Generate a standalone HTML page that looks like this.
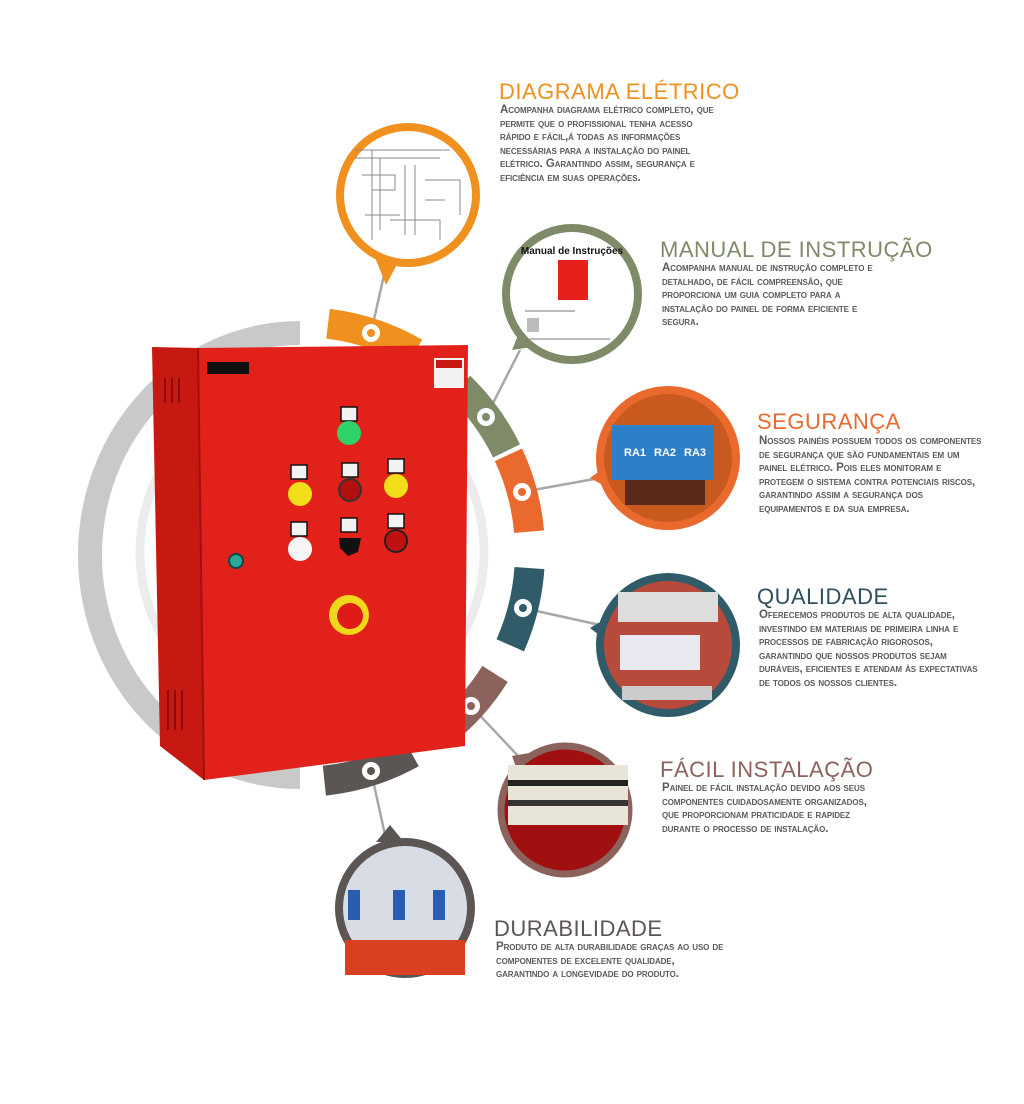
<!DOCTYPE html>
<html><head><meta charset="utf-8"><style>
body{margin:0;background:#fff;width:1024px;height:1104px;overflow:hidden;font-family:"Liberation Sans",sans-serif}
.t{position:absolute;font-size:22px;letter-spacing:0.5px;white-space:nowrap;font-weight:500}
.b{position:absolute;font-size:11.5px;font-weight:bold;font-variant:small-caps;color:#5a5a5a;line-height:13.5px;white-space:nowrap;letter-spacing:-0.1px}
</style></head><body>
<svg width="1024" height="1104" style="position:absolute;left:0;top:0">
<path d="M300 333 A210 222 0 0 0 300 777" fill="none" stroke="#c9c9c9" stroke-width="24"/>
<circle cx="312" cy="552" r="172" fill="none" stroke="#ececec" stroke-width="9"/>
<g stroke="#a8a8a8" stroke-width="2.5" fill="none">
<line x1="371" y1="333" x2="384" y2="275"/>
<line x1="486" y1="417" x2="520" y2="350"/>
<line x1="522" y1="492" x2="600" y2="478"/>
<line x1="523" y1="608" x2="600" y2="625"/>
<line x1="471" y1="706" x2="520" y2="758"/>
<line x1="371" y1="771" x2="385" y2="835"/>
</g>
<g fill="none" stroke-width="30">
<circle cx="300" cy="552" r="230" stroke="#f0901e" stroke-dasharray="92 2000" transform="rotate(-83 300 552)"/>
<circle cx="300" cy="552" r="230" stroke="#7e8a68" stroke-dasharray="80 2000" transform="rotate(-46 300 552)"/>
<circle cx="300" cy="552" r="230" stroke="#ea6a2e" stroke-dasharray="80 2000" transform="rotate(-25 300 552)"/>
<circle cx="300" cy="552" r="230" stroke="#2f5c68" stroke-dasharray="80 2000" transform="rotate(4 300 552)"/>
<circle cx="300" cy="552" r="230" stroke="#8c625c" stroke-dasharray="80 2000" transform="rotate(32 300 552)"/>
<circle cx="300" cy="552" r="230" stroke="#5b5654" stroke-dasharray="92 2000" transform="rotate(61 300 552)"/>
</g>
<g fill="#fff"><circle cx="371" cy="333" r="9"/><circle cx="486" cy="417" r="9"/><circle cx="522" cy="492" r="9"/><circle cx="523" cy="608" r="9"/><circle cx="471" cy="706" r="9"/><circle cx="371" cy="771" r="9"/></g>
<circle cx="371" cy="333" r="4" fill="#f0901e"/><circle cx="486" cy="417" r="4" fill="#7e8a68"/><circle cx="522" cy="492" r="4" fill="#ea6a2e"/><circle cx="523" cy="608" r="4" fill="#2f5c68"/><circle cx="471" cy="706" r="4" fill="#8c625c"/><circle cx="371" cy="771" r="4" fill="#5b5654"/>

<path d="M372 250 L386 285 L402 255 Z" fill="#f0901e"/>
<circle cx="408" cy="195" r="68" fill="#fff" stroke="#f0901e" stroke-width="8"/>
<g stroke="#888" stroke-width="1" fill="none"><path d="M355 150 H450 M355 158 H440 M372 150 V240 M380 158 V230 M362 175 H395 V190 H372 M405 165 V235 M415 165 V235 M425 180 H460 V215 M425 200 H445 M390 220 H440 V240 M365 215 H400"/></g>
<path d="M512 350 L525 318 L545 345 Z" fill="#7e8a68"/>
<circle cx="572" cy="294" r="66" fill="#fff" stroke="#7e8a68" stroke-width="8"/>
<text x="572" y="254" font-size="10" font-weight="bold" text-anchor="middle" fill="#111">Manual de Instruções</text>
<rect x="558" y="260" width="30" height="40" fill="#e8201c"/>
<g fill="#bbb"><rect x="525" y="310" width="50" height="2"/><rect x="527" y="318" width="12" height="14"/><rect x="530" y="338" width="80" height="2"/></g>
<path d="M590 478 L612 462 L612 490 Z" fill="#ea6a2e"/>
<circle cx="668" cy="458" r="68" fill="#c85a20" stroke="#ea6a2e" stroke-width="8"/>
<rect x="612" y="425" width="102" height="55" fill="#2d7fc8"/>
<rect x="625" y="480" width="80" height="25" fill="#5a2a1a"/>
<g font-size="11" fill="#fff" font-weight="bold"><text x="624" y="456">RA1</text><text x="654" y="456">RA2</text><text x="684" y="456">RA3</text></g>
<path d="M590 628 L612 615 L612 645 Z" fill="#2f5c68"/>
<circle cx="668" cy="645" r="68" fill="#b84a3c" stroke="#2f5c68" stroke-width="8"/>
<rect x="618" y="592" width="100" height="30" fill="#ddd"/>
<rect x="620" y="635" width="80" height="35" fill="#e8e8f0"/>
<rect x="622" y="686" width="90" height="14" fill="#ccc"/>
<path d="M512 756 L535 752 L520 778 Z" fill="#8c625c"/>
<circle cx="565" cy="810" r="64" fill="#a01010" stroke="#8c625c" stroke-width="7"/>
<rect x="508" y="765" width="120" height="60" fill="#e8e4d8"/>
<rect x="508" y="780" width="120" height="6" fill="#222"/>
<rect x="508" y="800" width="120" height="6" fill="#333"/>
<path d="M376 842 L390 825 L404 842 Z" fill="#5b5654"/>
<circle cx="405" cy="908" r="66" fill="#d8dce4" stroke="#5b5654" stroke-width="8"/>
<rect x="345" y="940" width="120" height="35" fill="#d84020"/>
<g fill="#2a5cb0"><rect x="348" y="890" width="12" height="30"/><rect x="393" y="890" width="12" height="30"/><rect x="433" y="890" width="12" height="30"/></g>

<polygon points="152,347 198,348 204,780 160,746" fill="#c81812"/>
<polygon points="198,348 468,345 465,746 204,780" fill="#e2211b"/>
<line x1="198" y1="348" x2="204" y2="780" stroke="#a01010" stroke-width="2"/>
<g stroke="#8a0d0a" stroke-width="2"><path d="M165 378 v25 M172 378 v25 M179 378 v25 M168 690 v40 M175 690 v40 M182 690 v40"/></g>
<rect x="207" y="362" width="42" height="12" fill="#111"/>
<rect x="434" y="358" width="30" height="30" fill="#f2f2f2"/><rect x="436" y="360" width="26" height="8" fill="#c81812"/>
<g fill="#f2f2f2" stroke="#111" stroke-width="1.5">
<rect x="341" y="407" width="16" height="14"/><rect x="291" y="465" width="16" height="14"/><rect x="342" y="463" width="16" height="14"/><rect x="388" y="459" width="16" height="14"/>
<rect x="291" y="522" width="16" height="14"/><rect x="341" y="518" width="16" height="14"/><rect x="388" y="514" width="16" height="14"/></g>
<circle cx="349" cy="433" r="12" fill="#2ed36a"/>
<circle cx="300" cy="494" r="12" fill="#f2df1a"/>
<circle cx="350" cy="490" r="11" fill="#b01010" stroke="#333" stroke-width="2"/>
<circle cx="396" cy="486" r="12" fill="#f2df1a"/>
<circle cx="300" cy="549" r="12" fill="#f6f6f6"/>
<path d="M339 538 L361 538 L358 552 L348 556 L340 548 Z" fill="#111"/>
<circle cx="396" cy="541" r="11" fill="#c01010" stroke="#222" stroke-width="2"/>
<circle cx="236" cy="561" r="7" fill="#2aa89a" stroke="#0d4b45" stroke-width="2"/>
<circle cx="349" cy="615" r="20" fill="#f2d81a"/>
<circle cx="350" cy="616" r="13" fill="#e01a14"/>
</svg>

<div class="t" style="left:499px;top:79px;color:#f0901e">DIAGRAMA ELÉTRICO</div>
<div class="b" style="left:500px;top:104px">Acompanha diagrama elétrico completo, que<br>permite que o profissional tenha acesso<br>rápido e fácil,á todas as informações<br>necessárias para a instalação do painel<br>elétrico. Garantindo assim, segurança e<br>eficiência em suas operações.</div>

<div class="t" style="left:660px;top:237px;color:#7e8a68">MANUAL DE INSTRUÇÃO</div>
<div class="b" style="left:662px;top:262px">Acompanha manual de instrução completo e<br>detalhado, de fácil compreensão, que<br>proporciona um guia completo para a<br>instalação do painel de forma eficiente e<br>segura.</div>

<div class="t" style="left:757px;top:409px;color:#ea6a2e">SEGURANÇA</div>
<div class="b" style="left:759px;top:435px">Nossos painéis possuem todos os componentes<br>de segurança que são fundamentais em um<br>painel elétrico. Pois eles monitoram e<br>protegem o sistema contra potenciais riscos,<br>garantindo assim a segurança dos<br>equipamentos e da sua empresa.</div>

<div class="t" style="left:757px;top:584px;color:#2f4f5c">QUALIDADE</div>
<div class="b" style="left:759px;top:609px">Oferecemos produtos de alta qualidade,<br>investindo em materiais de primeira linha e<br>processos de fabricação rigorosos,<br>garantindo que nossos produtos sejam<br>duráveis, eficientes e atendam às expectativas<br>de todos os nossos clientes.</div>

<div class="t" style="left:660px;top:757px;color:#8c625c">FÁCIL INSTALAÇÃO</div>
<div class="b" style="left:662px;top:782px">Painel de fácil instalação devido aos seus<br>componentes cuidadosamente organizados,<br>que proporcionam praticidade e rapidez<br>durante o processo de instalação.</div>

<div class="t" style="left:494px;top:916px;color:#5b5654">DURABILIDADE</div>
<div class="b" style="left:496px;top:941px">Produto de alta durabilidade graças ao uso de<br>componentes de excelente qualidade,<br>garantindo a longevidade do produto.</div>
</body></html>
